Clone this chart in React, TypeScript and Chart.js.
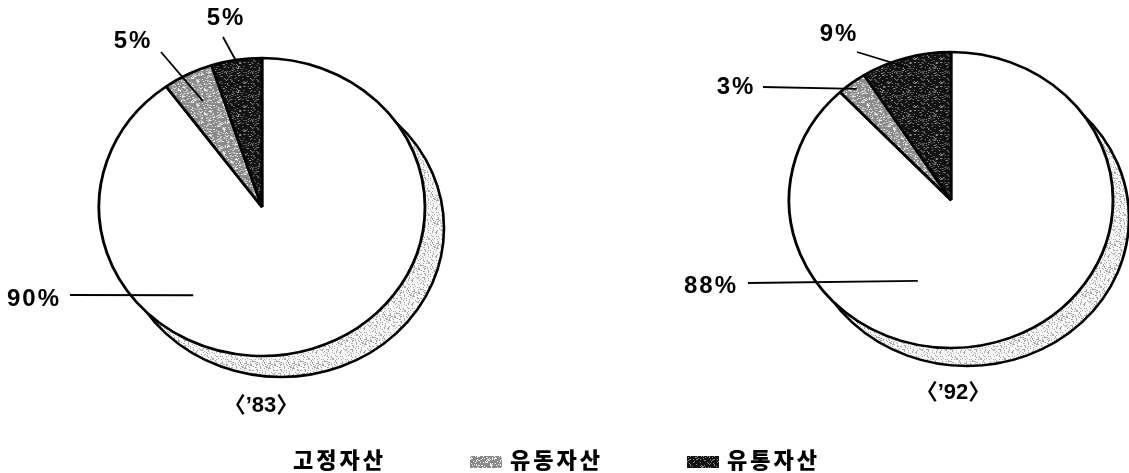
import React, { useEffect, useRef } from 'react';
import { Chart, registerables } from 'chart.js';

Chart.register(...registerables);

// ---- data ----
const categories = ['고정자산', '유동자산', '유통자산'];
const values83 = [90, 5, 5];
const values92 = [88, 3, 9];
const captions = ['〈’83〉', '〈’92〉'];

// ---- layout / style ----
const W = 1129;
const H = 473;

type LabelLayout = { text: [number, number]; from: [number, number]; t: number; f: number };

const pieLayouts = [
  {
    cx: 262, cy: 207, r: 149, sx: 163 / 149, sy: 1, shadow: [19, 21],
    caption: [-1, 199],
    labels: [
      { text: [-229, 92], from: [-192, 88], t: 0.665, f: 0.727 },
      { text: [-130, -166], from: [-101, -155], t: 0.5, f: 0.8 },
      { text: [-37, -189], from: [-39, -170], t: 0.5, f: 0.98 },
    ] as LabelLayout[],
  },
  {
    cx: 951, cy: 200, r: 148, sx: 162 / 148, sy: 1, shadow: [16, 18],
    caption: [2, 193],
    labels: [
      { text: [-241, 86], from: [-203, 83], t: 0.633, f: 0.584 },
      { text: [-216, -113], from: [-188, -113], t: 0.5, f: 0.95 },
      { text: [-113, -166], from: [-94, -148], t: 0.5, f: 0.93 },
    ] as LabelLayout[],
  },
];

const legendStartX = 253;
const legendStep = 217;
const legendY = 461;

// deterministic stipple texture (visual texture only, not data)
function hash(x: number, y: number): number {
  let h = (x * 374761393 + y * 668265263) | 0;
  h = ((h ^ (h >>> 13)) * 1274126177) | 0;
  return ((h ^ (h >>> 16)) >>> 0) % 1000 / 1000;
}

function makePattern(
  ctx: CanvasRenderingContext2D,
  bg: string,
  fg: string,
  density: number,
  seed: number
): CanvasPattern | string {
  const N = 24;
  const c = document.createElement('canvas');
  c.width = N;
  c.height = N;
  const g = c.getContext('2d')!;
  g.fillStyle = bg;
  g.fillRect(0, 0, N, N);
  g.fillStyle = fg;
  for (let y = 0; y < N; y++) {
    for (let x = 0; x < N; x++) {
      if (hash(x + seed, y + seed * 3) < density) g.fillRect(x, y, 1, 1);
    }
  }
  return ctx.createPattern(c, 'repeat') || bg;
}

function buildChart(
  canvas: HTMLCanvasElement,
  values: number[],
  layout: (typeof pieLayouts)[number],
  caption: string,
  drawLegend: boolean
) {
  const ctx0 = canvas.getContext('2d')!;
  const patGray = makePattern(ctx0, '#8a8a8a', '#f0f0f0', 0.25, 7);
  const patDark = makePattern(ctx0, '#111111', '#8c8c8c', 0.16, 13);
  const patShadow = makePattern(ctx0, '#f8f8f8', '#a8a8a8', 0.2, 29);
  const fills = ['#ffffff', patGray, patDark];

  const padLeft = Math.max(0, 2 * layout.cx - W);
  const padRight = Math.max(0, W - 2 * layout.cx);
  const padTop = Math.max(0, 2 * layout.cy - H);
  const padBottom = Math.max(0, H - 2 * layout.cy);

  let saved = false;

  const ellipsePlugin = {
    id: 'ellipsePie',
    beforeDatasetsDraw(chart: any) {
      const arc = chart.getDatasetMeta(0).data[0];
      if (!arc) return;
      const { x, y, outerRadius } = arc.getProps(['x', 'y', 'outerRadius'], true);
      const ctx = chart.ctx as CanvasRenderingContext2D;
      // 3D-like shadow
      ctx.save();
      ctx.beginPath();
      ctx.ellipse(
        x + layout.shadow[0],
        y + layout.shadow[1],
        outerRadius * layout.sx,
        outerRadius * layout.sy,
        0,
        0,
        Math.PI * 2
      );
      ctx.fillStyle = patShadow as any;
      ctx.fill();
      ctx.lineWidth = 2.6;
      ctx.strokeStyle = '#000';
      ctx.stroke();
      ctx.restore();
      // squash the pie into an ellipse
      ctx.save();
      saved = true;
      ctx.translate(x, y);
      ctx.scale(layout.sx, layout.sy);
      ctx.translate(-x, -y);
    },
    afterDatasetsDraw(chart: any) {
      if (saved) {
        chart.ctx.restore();
        saved = false;
      }
    },
    afterDraw(chart: any) {
      const meta = chart.getDatasetMeta(0);
      const ctx = chart.ctx as CanvasRenderingContext2D;
      const first = meta.data[0];
      if (!first) return;
      const { x, y } = first.getProps(['x', 'y'], true);
      ctx.save();
      ctx.fillStyle = '#000';
      ctx.strokeStyle = '#000';
      ctx.lineWidth = 1.8;
      ctx.textAlign = 'center';
      ctx.textBaseline = 'middle';
      ctx.font = 'bold 24px "Liberation Sans", Arial, sans-serif';
      (ctx as any).letterSpacing = '2px';
      meta.data.forEach((el: any, i: number) => {
        const lay = layout.labels[i];
        if (!lay) return;
        const { startAngle, endAngle, outerRadius } = el.getProps(
          ['startAngle', 'endAngle', 'outerRadius'],
          true
        );
        const a = startAngle + lay.t * (endAngle - startAngle);
        const ax = x + lay.f * outerRadius * Math.cos(a) * layout.sx;
        const ay = y + lay.f * outerRadius * Math.sin(a) * layout.sy;
        ctx.beginPath();
        ctx.moveTo(x + lay.from[0], y + lay.from[1]);
        ctx.lineTo(ax, ay);
        ctx.stroke();
        ctx.fillText(`${values[i]}%`, x + lay.text[0] + 1, y + lay.text[1]);
      });
      (ctx as any).letterSpacing = '0px';
      ctx.font = 'bold 22px "Liberation Sans", "Noto Sans CJK KR", sans-serif';
      ctx.fillText(caption, x + layout.caption[0], y + layout.caption[1]);

      if (drawLegend) {
        ctx.textAlign = 'left';
        ctx.font = '900 22px "Noto Sans CJK KR", sans-serif';
        (ctx as any).letterSpacing = '3px';
        categories.forEach((name, i) => {
          const bx = legendStartX + i * legendStep;
          ctx.fillStyle = fills[i] as any;
          ctx.fillRect(bx, legendY - 5, 32, 12);
          ctx.fillStyle = '#000';
          ctx.fillText(name, bx + 40, legendY - 1);
        });
      }
      ctx.restore();
    },
  };

  return new Chart(canvas, {
    type: 'pie',
    data: {
      labels: categories,
      datasets: [
        {
          data: values,
          backgroundColor: fills as any,
          borderColor: '#000',
          borderWidth: 2.6,
          radius: layout.r,
          clip: false,
        } as any,
      ],
    },
    options: {
      responsive: false,
      animation: false,
      events: [],
      radius: layout.r,
      layout: {
        padding: { left: padLeft, right: padRight, top: padTop, bottom: padBottom },
      },
      plugins: {
        legend: { display: false },
        tooltip: { enabled: false },
      },
    } as any,
    plugins: [ellipsePlugin],
  });
}

export default function App() {
  const leftRef = useRef<HTMLCanvasElement>(null);
  const rightRef = useRef<HTMLCanvasElement>(null);

  useEffect(() => {
    const charts: Chart[] = [];
    if (leftRef.current) {
      charts.push(buildChart(leftRef.current, values83, pieLayouts[0], captions[0], false));
    }
    if (rightRef.current) {
      charts.push(buildChart(rightRef.current, values92, pieLayouts[1], captions[1], true));
    }
    return () => charts.forEach((c) => c.destroy());
  }, []);

  return (
    <div
      style={{
        position: 'fixed',
        left: 0,
        top: 0,
        width: W,
        height: H,
        background: '#fff',
        overflow: 'hidden',
      }}
    >
      <canvas
        ref={leftRef}
        width={W}
        height={H}
        style={{ position: 'absolute', left: 0, top: 0 }}
      />
      <canvas
        ref={rightRef}
        width={W}
        height={H}
        style={{ position: 'absolute', left: 0, top: 0 }}
      />
    </div>
  );
}
